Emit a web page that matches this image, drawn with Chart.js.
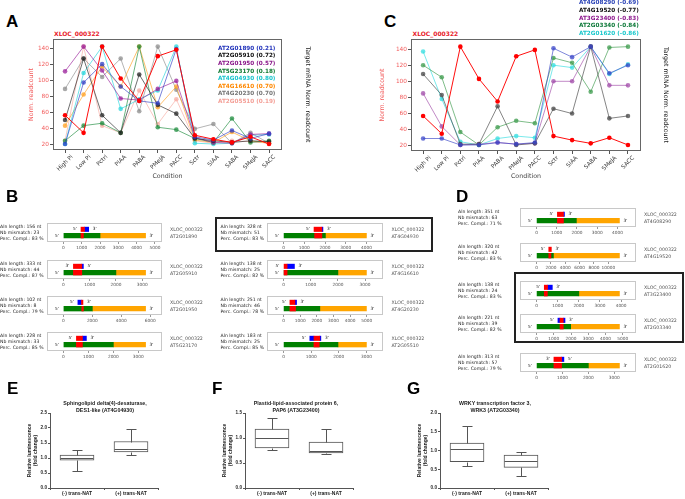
<!DOCTYPE html>
<html>
<head>
<meta charset="utf-8">
<script src="https://cdn.jsdelivr.net/npm/chart.js@4.4.1/dist/chart.umd.min.js"></script>
<style>
  body { margin: 0; background: #fff; }
  #fig { position: relative; width: 685px; height: 499px; overflow: hidden; font-family: "DejaVu Sans", sans-serif; }
  #fig div, #fig canvas { position: absolute; }
  .letter { font: bold 17px/17px "Liberation Sans", Arial, sans-serif; color: #000; }
  .ptitle { font: bold 6px/7px "DejaVu Sans"; color: #e8202a; }
  .leg { font: bold 5.7px/7.6px "DejaVu Sans"; white-space: nowrap; }
  .aln { font: 4.6px/5.7px "DejaVu Sans"; color: #222; white-space: nowrap; }
  .name { font: 4.7px/7px "DejaVu Sans"; color: #555; white-space: nowrap; }
  .hl { border: 2px solid #222; box-sizing: border-box; }
  .btitle { font: bold 5.3px/6.2px "Liberation Sans", Arial, sans-serif; color: #222; text-align: center; white-space: nowrap; width: 200px; }
</style>
</head>
<body>
<div id="fig"></div>
<script>
// ---------------- data ----------------
var conditions = ["High Pi", "Low Pi", "Pctrl", "PIAA", "PABA", "PMeJA", "PACC", "Sctr", "SIAA", "SABA", "SMeJA", "SACC"];
var countTicks = [20, 40, 60, 80, 100, 120, 140];
var xlocName = "XLOC_000322";
var xlocCounts = [57, 35, 143, 103, 75, 131, 139, 32, 27, 23, 30, 21];

// panel A: positively correlated targets
var targetsA = ["AT2G01890", "AT2G05910", "AT2G01950", "AT5G23170", "AT4G04930", "AT4G16610", "AT4G20230", "AT2G05510"];
var corrA = [0.21, 0.72, 0.57, 0.18, 0.80, 0.70, 0.70, 0.19];
var countsA = [
  [21, 98, 121, 93, 75, 72, 140, 30, 26, 38, 28, 34],
  [51, 128, 57, 35, 108, 70, 59, 28, 25, 23, 25, 24],
  [112, 143, 113, 78, 76, 90, 100, 29, 23, 22, 33, 34],
  [25, 44, 47, 35, 143, 42, 39, 28, 23, 53, 23, 25],
  [21, 110, 143, 65, 77, 88, 143, 22, 21, 22, 32, 33],
  [44, 83, 118, 93, 143, 67, 93, 26, 23, 36, 25, 22],
  [90, 128, 105, 128, 62, 143, 89, 40, 46, 22, 35, 22],
  [25, 143, 44, 35, 88, 46, 77, 25, 22, 25, 24, 22]
];

// panel C: negatively correlated targets
var targetsC = ["AT4G08290", "AT4G19520", "AT3G23400", "AT2G03340", "AT2G01620"];
var corrC = [-0.69, -0.77, -0.83, -0.84, -0.86];
var countsC = [
  [29, 29, 21, 21, 24, 22, 24, 141, 130, 143, 110, 120],
  [109, 83, 22, 22, 69, 21, 23, 66, 60, 143, 54, 57],
  [85, 44, 21, 22, 24, 22, 23, 100, 100, 143, 95, 95],
  [120, 105, 37, 21, 43, 51, 48, 129, 123, 87, 142, 143],
  [137, 78, 25, 21, 29, 32, 30, 120, 117, 143, 109, 121]
];

// panel B alignments (left column then right column)
var bTargets = ["AT2G01890", "AT2G05910", "AT2G01950", "AT5G23170", "AT4G04930", "AT4G16610", "AT4G20230", "AT2G05510"];
var bAlnLen = [156, 333, 102, 228, 328, 138, 251, 183];
var bMismatch = [23, 44, 8, 33, 51, 25, 46, 25];
var bCompl = [83, 87, 79, 85, 83, 82, 78, 85];
var bQueryHit = [[960, 1150], [380, 700], [1250, 1350], [520, 760], [1470, 1850], [0, 130], [380, 680], [1100, 1310]];
var bQueryFlank = [[[1150, 1380]], [[700, 760]], [[1000, 1250]], [[760, 920]], [[1850, 1900]], [[130, 400]], [[680, 780]], [[950, 1100], [1310, 1350]]];
var bReverse = [false, true, false, false, false, false, false, false];
var bTargetHit = [[960, 1090], [380, 700], [1270, 1380], [520, 760], [1500, 1850], [0, 130], [380, 720], [1100, 1290]];
var bCdsEnd = [2000, 2000, 2000, 2000, 2020, 2000, 2180, 1970];
var bLength = [4490, 3130, 5680, 3290, 4000, 3050, 4980, 3000];
var bTickStep = [1000, 1000, 2000, 1000, 1000, 1000, 1000, 1000];
var bTickMax = [5000, 3000, 6000, 3000, 4000, 3000, 5000, 3000];

// panel D alignments
var dTargets = ["AT4G08290", "AT4G19520", "AT3G23400", "AT2G03340", "AT2G01620"];
var dAlnLen = [351, 320, 138, 221, 313];
var dMismatch = [63, 42, 24, 39, 57];
var dCompl = [71, 83, 83, 82, 79];
var dQueryHit = [[1030, 1330], [1700, 2060], [365, 520], [1360, 1550], [670, 965]];
var dQueryFlank = [[[1330, 1380]], [], [[520, 745]], [[1240, 1360], [1550, 1650]], [[965, 1055]]];
var dReverse = [false, false, false, false, true];
var dTargetHit = [[1030, 1330], [1700, 2000], [365, 510], [1360, 1550], [670, 965]];
var dCdsEnd = [1970, 2350, 2000, 1980, 2000];
var dLength = [4100, 11550, 3920, 4810, 3200];
var dTickStep = [1000, 2000, 1000, 1000, 1000];
var dTickMax = [4000, 10000, 4000, 5000, 3000];

// panels E-G luciferase assays
var natGroups = ["(-) trans-NAT", "(+) trans-NAT"];
var eLo = [0.57, 1.10], eQ1 = [0.93, 1.20], eMed = [1.00, 1.30], eQ3 = [1.10, 1.55], eHi = [1.28, 1.95];
var fLo = [0.77, 0.67], fQ1 = [0.80, 0.70], fMed = [1.00, 0.74], fQ3 = [1.18, 0.92], fHi = [1.40, 1.19];
var gLo = [0.60, 0.33], gQ1 = [0.70, 0.55], gMed = [1.05, 0.71], gQ3 = [1.20, 0.88], gHi = [1.66, 0.96];

// ---------------- styles ----------------
var xlocColor = "#ff0000";
var colorsA = ["#2f3fc4", "#222222", "#9a1f9a", "#1d8c3e", "#25d6dc", "#ffa020", "#8c8c8c", "#f7aaa2"];
var legColorsA = ["#2233bb", "#111111", "#8b1a8b", "#117a33", "#18c4cc", "#ff8800", "#777777", "#f4a098"];
var colorsC = ["#3a46c8", "#444444", "#a04aa8", "#3a9a4a", "#33dde0"];
var legColorsC = ["#2e46b8", "#111111", "#8e1a8e", "#0f7a3a", "#1cc8cc"];

Chart.defaults.animation = false;
Chart.defaults.responsive = false;
Chart.defaults.devicePixelRatio = 1;
Chart.defaults.font.family = '"DejaVu Sans", sans-serif';
Chart.defaults.plugins.legend.display = false;
Chart.defaults.plugins.tooltip.enabled = false;

var fig = document.getElementById("fig");

function addDiv(cls, left, top, html, color) {
  var d = document.createElement("div");
  d.className = cls;
  d.style.left = left + "px";
  d.style.top = top + "px";
  if (color) d.style.color = color;
  d.innerHTML = html;
  fig.appendChild(d);
  return d;
}

function addCanvas(left, top, w, h) {
  var c = document.createElement("canvas");
  c.width = w;
  c.height = h;
  c.style.left = left + "px";
  c.style.top = top + "px";
  c.style.width = w + "px";
  c.style.height = h + "px";
  fig.appendChild(c);
  return c;
}

function rgba(hex, a) {
  var n = parseInt(hex.slice(1), 16);
  return "rgba(" + (n >> 16) + "," + ((n >> 8) & 255) + "," + (n & 255) + "," + a + ")";
}

function tickList(from, to, step) {
  var t = [];
  for (var v = from; v <= to + 1e-9; v += step) t.push({ value: v });
  return t;
}

// box around the plot area
var framePlugin = {
  id: "frame",
  afterDatasetsDraw: function (chart, args, opts) {
    var a = chart.chartArea, ctx = chart.ctx;
    ctx.save();
    ctx.strokeStyle = opts.color;
    ctx.lineWidth = 1;
    ctx.strokeRect(Math.round(a.left) + 0.5, Math.round(a.top) + 0.5,
      Math.round(a.right - a.left) - 1, Math.round(a.bottom - a.top) - 1);
    ctx.restore();
  }
};

// condition labels rotated 45 deg and centred on the tick (matplotlib style)
var conditionLabels = {
  id: "condLabels",
  afterDraw: function (chart) {
    var xs = chart.scales.x, ctx = chart.ctx, a = chart.chartArea;
    ctx.save();
    ctx.font = '5.8px "DejaVu Sans"';
    ctx.fillStyle = "#333";
    ctx.textAlign = "center";
    ctx.textBaseline = "middle";
    conditions.forEach(function (c, i) {
      var w = ctx.measureText(c).width;
      var x = xs.getPixelForValue(i);
      var y = a.bottom + 4 + (w + 5.8) * 0.7071 / 2;
      ctx.save();
      ctx.translate(x, y);
      ctx.rotate(-Math.PI / 4);
      ctx.fillText(c, 0, 0);
      ctx.restore();
    });
    ctx.restore();
  }
};

function conditionChart(left, top, pad, yW, y2W, xH, series, colors) {
  var cv = addCanvas(left, top, 345, 160);
  var datasets = series.map(function (vals, k) {
    return {
      data: vals.map(function (v, i) { return { x: i, y: v }; }),
      borderColor: rgba(colors[k], k === 0 ? 0.95 : 0.65),
      backgroundColor: rgba(colors[k], k === 0 ? 1 : 0.75),
      pointBackgroundColor: rgba(colors[k], k === 0 ? 1 : 0.75),
      borderWidth: 1,
      pointRadius: 2.3,
      pointBorderWidth: 0,
      tension: 0
    };
  });
  new Chart(cv, {
    type: "line",
    data: { datasets: datasets },
    options: {
      layout: { padding: pad },
      scales: {
        x: {
          type: "linear", min: -0.65, max: 11.7,
          afterBuildTicks: function (s) { s.ticks = conditions.map(function (c, i) { return { value: i }; }); },
          ticks: { display: false },
          grid: { drawOnChartArea: false, tickLength: 3, color: "#555" },
          border: { display: false },
          title: { display: true, text: "Condition", color: "#444", font: { size: 6.3 }, padding: 0 },
          afterFit: function (s) { s.height = xH; }
        },
        y: {
          min: 13.5, max: 152.5,
          afterBuildTicks: function (s) { s.ticks = countTicks.map(function (v) { return { value: v }; }); },
          ticks: { color: "#f25a5a", font: { size: 5.8 }, padding: 1 },
          grid: { drawOnChartArea: false, tickLength: 3, color: "#555" },
          border: { display: false },
          title: { display: true, text: "Norm. readcount", color: "#f25a5a", font: { size: 6.3 }, padding: 0 },
          afterFit: function (s) { s.width = yW; }
        },
        y2: {
          position: "right", min: 0, max: 1,
          ticks: { display: false },
          grid: { display: false },
          border: { display: false },
          title: { display: true, text: "Target mRNA Norm. readcount", color: "#222", font: { size: 6.3 }, padding: 0 },
          afterFit: function (s) { s.width = y2W; }
        }
      },
      plugins: { frame: { color: "#666" } }
    },
    plugins: [framePlugin, conditionLabels]
  });
}

// 5'/3' end labels of the query and target bars
var endsPlugin = {
  id: "ends",
  afterDatasetsDraw: function (chart, args, o) {
    var xs = chart.scales.x, ys = chart.scales.y, ctx = chart.ctx;
    var yq = ys.getPixelForValue(1), yt = ys.getPixelForValue(2);
    ctx.save();
    ctx.font = '4.3px "DejaVu Sans"';
    ctx.fillStyle = "#222";
    ctx.textAlign = "center";
    ctx.textBaseline = "middle";
    ctx.fillText(o.reverse ? "3'" : "5'", xs.getPixelForValue(o.qStart) - 6, yq);
    ctx.fillText(o.reverse ? "5'" : "3'", xs.getPixelForValue(o.qEnd) + 6, yq);
    ctx.fillText("5'", xs.getPixelForValue(0) - 6.5, yt);
    ctx.fillText("3'", xs.getPixelForValue(o.len) + 6, yt);
    ctx.restore();
  }
};

function alignChart(left, top, w, qHit, qFlank, reverse, tHit, cds, len, step, tickMax) {
  var cv = addCanvas(left, top, w, 31);
  function onRow(r, seg) { var d = [null, null, null, null]; d[r] = seg; return d; }
  var ds = [];
  ds.push({ data: onRow(1, qHit), backgroundColor: "#ff0000", barThickness: 4.4 });
  qFlank.forEach(function (seg) { ds.push({ data: onRow(1, seg), backgroundColor: "#0000ff", barThickness: 4.4 }); });
  ds.push({ data: onRow(2, tHit), backgroundColor: "#ff0000", barThickness: 4.7 });
  ds.push({ data: onRow(2, [0, cds]), backgroundColor: "#008000", barThickness: 4.7 });
  ds.push({ data: onRow(2, [cds, len]), backgroundColor: "#ffa500", barThickness: 4.7 });
  ds.forEach(function (d) { d.grouped = false; d.borderWidth = 0; });
  var qs = [qHit].concat(qFlank);
  var qStart = Math.min.apply(null, qs.map(function (s) { return s[0]; }));
  var qEnd = Math.max.apply(null, qs.map(function (s) { return s[1]; }));
  new Chart(cv, {
    type: "bar",
    data: { labels: ["", "query", "target", ""], datasets: ds },
    options: {
      indexAxis: "y",
      layout: { padding: 0 },
      scales: {
        y: { display: false, offset: false },
        x: {
          min: -0.2 * len, max: 1.2 * len,
          afterBuildTicks: function (s) { s.ticks = tickList(0, tickMax, step); },
          ticks: { font: { size: 4.3 }, color: "#555", padding: 1, maxRotation: 0, autoSkip: false,
                   callback: function (v) { return String(v); } },
          grid: { drawOnChartArea: false, tickLength: 2, color: "#999" },
          border: { display: false },
          afterFit: function (s) { s.height = 12; }
        }
      },
      plugins: {
        frame: { color: "#c8c8c8" },
        ends: { qStart: qStart, qEnd: qEnd, reverse: reverse, len: len }
      }
    },
    plugins: [framePlugin, endsPlugin]
  });
}

function alnEntry(textLeft, boxLeft, boxW, nameLeft, top, name, alnLen, mis, compl) {
  addDiv("aln", textLeft, top + 1.2,
    "Aln length: " + alnLen + " nt<br>Nb mismatch: " + mis + "<br>Perc. Compl.: " + compl + " %");
  addDiv("name", nameLeft, top + 2.5, xlocName + "<br>" + name);
}

// whiskers and medians for the box plots
var whiskerPlugin = {
  id: "whiskers",
  afterDatasetsDraw: function (chart, args, o) {
    var xs = chart.scales.x, ys = chart.scales.y, ctx = chart.ctx;
    ctx.save();
    ctx.strokeStyle = "#555";
    ctx.lineWidth = 1;
    function seg(x1, y1, x2, y2) {
      ctx.beginPath();
      ctx.moveTo(Math.round(x1) + 0.5, Math.round(y1) + 0.5);
      ctx.lineTo(Math.round(x2) + 0.5, Math.round(y2) + 0.5);
      ctx.stroke();
    }
    o.lo.forEach(function (lo, i) {
      var x = xs.getPixelForValue(i);
      var yLo = ys.getPixelForValue(lo), yHi = ys.getPixelForValue(o.hi[i]);
      var yQ1 = ys.getPixelForValue(o.q1[i]), yQ3 = ys.getPixelForValue(o.q3[i]);
      var yMed = ys.getPixelForValue(o.med[i]);
      seg(x, yLo, x, yQ1);
      seg(x, yHi, x, yQ3);
      seg(x - 5, yLo, x + 5, yLo);
      seg(x - 5, yHi, x + 5, yHi);
      seg(x - 17, yMed, x + 16, yMed);
    });
    ctx.restore();
  }
};

function boxChart(left, top, yMax, lo, q1, med, q3, hi) {
  var cv = addCanvas(left, top, 160, 94);
  var boldFont = '"Liberation Sans", Arial, sans-serif';
  new Chart(cv, {
    type: "bar",
    data: {
      labels: natGroups,
      datasets: [{
        data: q1.map(function (v, i) { return [v, q3[i]]; }),
        backgroundColor: "#ffffff", borderColor: "#555", borderWidth: 1,
        borderSkipped: false, barThickness: 34
      }]
    },
    options: {
      layout: { padding: { left: 17, right: 12, top: 8, bottom: 0 } },
      scales: {
        x: {
          grid: { display: true, drawOnChartArea: false, tickLength: 2, color: "#555" },
          border: { color: "#555" },
          ticks: { color: "#222", font: { size: 5, weight: "bold", family: boldFont }, padding: 1 },
          afterFit: function (s) { s.height = 11; }
        },
        y: {
          min: 0, max: yMax,
          afterBuildTicks: function (s) { s.ticks = tickList(0, yMax, 0.5); },
          ticks: { color: "#222", font: { size: 4.6, weight: "bold", family: boldFont }, padding: 1,
                   callback: function (v) { return v.toFixed(1); } },
          grid: { drawOnChartArea: false, tickLength: 2, color: "#555" },
          border: { color: "#555" },
          title: { display: true, text: ["Relative luminescence", "(fold change)"], color: "#222",
                   font: { size: 5, weight: "bold", family: boldFont }, padding: 0 },
          afterFit: function (s) { s.width = 23; }
        }
      },
      plugins: { whiskers: { lo: lo, q1: q1, med: med, q3: q3, hi: hi } }
    },
    plugins: [whiskerPlugin]
  });
}

// ---------------- panels A and C ----------------
addDiv("letter", 6, 13, "A");
addDiv("letter", 384, 13, "C");
addDiv("ptitle", 54, 29.5, xlocName);
addDiv("ptitle", 412.5, 29.5, xlocName);

conditionChart(0, 30, { left: 28, right: 34, top: 9, bottom: 10 }, 25, 29, 30,
  [xlocCounts].concat(countsA), [xlocColor].concat(colorsA));
conditionChart(340, 30, { left: 39, right: 16, top: 9, bottom: 10 }, 32, 28, 29,
  [xlocCounts].concat(countsC), [xlocColor].concat(colorsC));

targetsA.forEach(function (t, i) {
  addDiv("leg", 218, 44.7 + i * 7.6, t + " (" + corrA[i].toFixed(2) + ")", legColorsA[i]);
});
targetsC.forEach(function (t, i) {
  addDiv("leg", 579, -1 + i * 7.75, t + " (" + corrC[i].toFixed(2) + ")", legColorsC[i]);
});

// ---------------- panel B ----------------
addDiv("letter", 6, 188, "B");
var bTops = [223, 260, 296, 332];
bTargets.forEach(function (t, i) {
  var col = i < 4 ? 0 : 1, top = bTops[i % 4];
  var textLeft = col ? 220.5 : 0, boxLeft = col ? 267 : 47, boxW = col ? 116 : 115, nameLeft = col ? 391.5 : 170;
  alnEntry(textLeft, boxLeft, boxW, nameLeft, top, t, bAlnLen[i], bMismatch[i], bCompl[i]);
  alignChart(boxLeft, top, boxW, bQueryHit[i], bQueryFlank[i], bReverse[i], bTargetHit[i],
    bCdsEnd[i], bLength[i], bTickStep[i], bTickMax[i]);
});
var hlB = addDiv("hl", 215, 217, "");
hlB.style.width = "218px"; hlB.style.height = "35px";

// ---------------- panel D ----------------
addDiv("letter", 456, 188, "D");
var dTops = [208, 243, 281, 314, 353];
dTargets.forEach(function (t, i) {
  alnEntry(458, 520, 116, 644, dTops[i], t, dAlnLen[i], dMismatch[i], dCompl[i]);
  alignChart(520, dTops[i], 116, dQueryHit[i], dQueryFlank[i], dReverse[i], dTargetHit[i],
    dCdsEnd[i], dLength[i], dTickStep[i], dTickMax[i]);
});
var hlD = addDiv("hl", 514, 272, "");
hlD.style.width = "170px"; hlD.style.height = "71px";

// ---------------- panels E, F, G ----------------
addDiv("letter", 7, 379.5, "E");
addDiv("letter", 212, 379.5, "F");
addDiv("letter", 407, 379.5, "G");
addDiv("btitle", 5, 400.3, "Sphingolipid delta(4)-desaturase,<br>DES1-like (AT4G04930)");
addDiv("btitle", 196, 400.3, "Plastid-lipid-associated protein 6,<br>PAP6 (AT3G23400)");
addDiv("btitle", 395, 400.3, "WRKY transcription factor 3,<br>WRK3 (AT2G03340)");

boxChart(10, 405, 2.5, eLo, eQ1, eMed, eQ3, eHi);
boxChart(205, 405, 1.5, fLo, fQ1, fMed, fQ3, fHi);
boxChart(400, 405, 2.0, gLo, gQ1, gMed, gQ3, gHi);
</script>
</body>
</html>
